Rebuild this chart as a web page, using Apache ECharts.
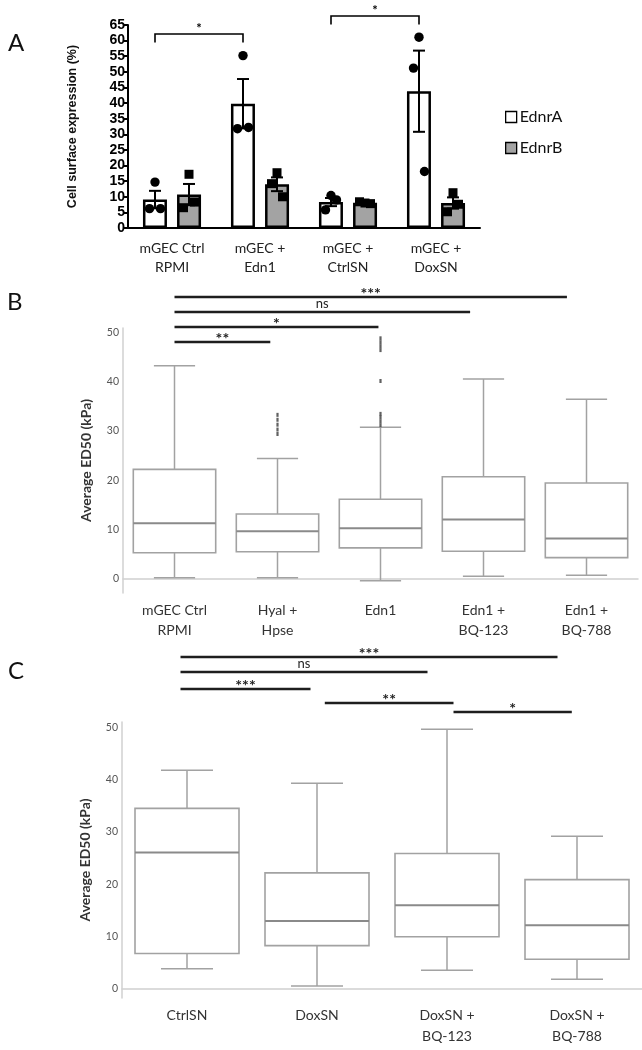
<!DOCTYPE html>
<html>
<head>
<meta charset="utf-8">
<script src="https://cdn.jsdelivr.net/npm/echarts@6/dist/echarts.min.js"></script>
<style>html,body{margin:0;padding:0;background:#fff}#c{width:642px;height:1050px}</style>
</head>
<body>
<div id="c"></div>
<script>
// ---------- Panel A data ----------
const catA = ['mGEC Ctrl\nRPMI', 'mGEC +\nEdn1', 'mGEC +\nCtrlSN', 'mGEC +\nDoxSN'];
const ednrAMean = [9.1, 39.8, 8.3, 43.8];
const ednrASem = [2.8, 7.9, 1.3, 13.0];
const ednrBMean = [10.7, 14.0, 8.1, 8.0];
const ednrBSem = [3.4, 2.2, 0.4, 1.8];
const ednrAPoints = [[14.7, 6.2, 6.2], [55.2, 31.8, 32.2], [10.4, 5.8, 9.0], [61.1, 51.2, 18.1]];
const ednrBPoints = [[17.2, 6.5, 8.3], [17.7, 14.2, 10.0], [8.0, 8.4, 7.8], [11.3, 5.2, 7.6]];
const sigA = [
  { from: 0, to: 1, y: 62.1, label: '*' },
  { from: 2, to: 3, y: 67.9, label: '*' }
];

// ---------- Panel B data ----------
const catB = ['mGEC Ctrl\nRPMI', 'Hyal +\nHpse', 'Edn1', 'Edn1 +\nBQ-123', 'Edn1 +\nBQ-788'];
const boxMinB = [0.1, 0.1, -0.5, 0.4, 0.6];
const boxQ1B = [5.2, 5.4, 6.2, 5.5, 4.2];
const boxMedB = [11.2, 9.6, 10.2, 12.0, 8.1];
const boxQ3B = [22.2, 13.1, 16.1, 20.7, 19.4];
const boxMaxB = [43.3, 24.4, 30.8, 40.6, 36.5];
const outlierCatB = [1, 1, 1, 1, 1, 2, 2, 2, 2, 2, 2, 2, 2, 2];
const outlierValB = [29.4, 30.3, 31.3, 32.3, 33.3, 31.2, 32.0, 32.8, 33.5, 40.2, 46.5, 47.3, 48.1, 48.9];
const sigB = [
  { from: 0, to: 0.93, level: 1, label: '**' },
  { from: 0, to: 1.98, level: 2, label: '*' },
  { from: 0, to: 2.87, level: 3, label: 'ns' },
  { from: 0, to: 3.81, level: 4, label: '***' }
];

// ---------- Panel C data ----------
const catC = ['CtrlSN', 'DoxSN', 'DoxSN +\nBQ-123', 'DoxSN +\nBQ-788'];
const boxMinC = [3.9, 0.6, 3.6, 1.9];
const boxQ1C = [6.8, 8.3, 10.0, 5.7];
const boxMedC = [26.1, 13.0, 16.0, 12.2];
const boxQ3C = [34.5, 22.2, 25.9, 20.9];
const boxMaxC = [41.8, 39.3, 49.6, 29.2];
const sigC = [
  { from: -0.05, to: 2.85, level: 4.07, label: '***' },
  { from: -0.05, to: 1.85, level: 3.07, label: 'ns' },
  { from: -0.05, to: 0.95, level: 1.93, label: '***' },
  { from: 1.06, to: 2.05, level: 1.0, label: '**' },
  { from: 2.05, to: 2.96, level: 0.4, label: '*' }
];

// ---------- styling ----------
const FONT = 'Lato, "Open Sans", sans-serif';
const BAR_OFFSET = 17;
const JITTER = [0, -5.5, 5.5];
const BOX_RATIO = 0.8;
const BOX_COLOR = '#a2a2a2';
const MED_COLOR = '#8a8a8a';

function errRender(offset) {
  return function (params, api) {
    const i = api.value(0), m = api.value(1), s = api.value(2);
    const hi = api.coord([i, m + s]);
    const lo = api.coord([i, m - s]);
    const x = hi[0] + offset;
    const st = { stroke: '#000', lineWidth: 2 };
    return { type: 'group', children: [
      { type: 'line', shape: { x1: x, y1: lo[1], x2: x, y2: hi[1] }, style: st },
      { type: 'line', shape: { x1: x - 6, y1: hi[1], x2: x + 6, y2: hi[1] }, style: st },
      { type: 'line', shape: { x1: x - 6, y1: lo[1], x2: x + 6, y2: lo[1] }, style: st }
    ]};
  };
}
function pointRender(offset, square) {
  return function (params, api) {
    const p = api.coord([api.value(0), api.value(1)]);
    const x = p[0] + offset + JITTER[api.value(2)];
    if (square) {
      return { type: 'rect', shape: { x: x - 4.5, y: p[1] - 4.5, width: 9, height: 9 }, style: { fill: '#000' } };
    }
    return { type: 'circle', shape: { cx: x, cy: p[1], r: 4.7 }, style: { fill: '#000' } };
  };
}
function bracketRender(params, api) {
  const a = api.coord([api.value(0), api.value(2)]);
  const b = api.coord([api.value(1), api.value(2)]);
  const drop = api.coord([api.value(0), api.value(2) - 2.7]);
  const x1 = a[0] - BAR_OFFSET, x2 = b[0] - BAR_OFFSET;
  const st = { stroke: '#000', lineWidth: 1.6, fill: 'none' };
  return { type: 'group', children: [
    { type: 'polyline', shape: { points: [[x1, drop[1]], [x1, a[1]], [x2, a[1]], [x2, drop[1]]] }, style: st },
    { type: 'text', style: { text: sigA[params.dataIndex].label, x: (x1 + x2) / 2, y: a[1] - 5,
      align: 'center', verticalAlign: 'middle', font: 'bold 13px ' + FONT, fill: '#000' } }
  ]};
}
function boxRender(params, api) {
  const i = api.value(0);
  const pMin = api.coord([i, api.value(1)]);
  const pQ1 = api.coord([i, api.value(2)]);
  const pMed = api.coord([i, api.value(3)]);
  const pQ3 = api.coord([i, api.value(4)]);
  const pMax = api.coord([i, api.value(5)]);
  const band = api.size([1, 0])[0];
  const bw = band * BOX_RATIO, cw = bw * 0.5, x = pMed[0];
  const st = { stroke: BOX_COLOR, lineWidth: 1.5, fill: 'none' };
  return { type: 'group', children: [
    { type: 'line', shape: { x1: x, y1: pMax[1], x2: x, y2: pQ3[1] }, style: st },
    { type: 'line', shape: { x1: x, y1: pQ1[1], x2: x, y2: pMin[1] }, style: st },
    { type: 'line', shape: { x1: x - cw / 2, y1: pMax[1], x2: x + cw / 2, y2: pMax[1] }, style: st },
    { type: 'line', shape: { x1: x - cw / 2, y1: pMin[1], x2: x + cw / 2, y2: pMin[1] }, style: st },
    { type: 'rect', shape: { x: x - bw / 2, y: pQ3[1], width: bw, height: pQ1[1] - pQ3[1] },
      style: { stroke: BOX_COLOR, lineWidth: 1.6, fill: '#fff' } },
    { type: 'line', shape: { x1: x - bw / 2, y1: pMed[1], x2: x + bw / 2, y2: pMed[1] },
      style: { stroke: MED_COLOR, lineWidth: 2 } }
  ]};
}
function sigRender(list) {
  return function (params, api) {
    const a = api.coord([api.value(0), api.value(2)]);
    const b = api.coord([api.value(1), api.value(2)]);
    const lab = list[params.dataIndex].label;
    const isNs = lab === 'ns';
    return { type: 'group', children: [
      { type: 'line', shape: { x1: a[0], y1: a[1], x2: b[0], y2: b[1] }, style: { stroke: '#1e1e1e', lineWidth: 2.6 } },
      { type: 'text', style: { text: lab, x: (a[0] + b[0]) / 2, y: a[1] - (isNs ? 8 : 3),
        align: 'center', verticalAlign: 'middle',
        font: (isNs ? '13px ' : 'bold 16px ') + FONT, fill: '#222' } }
    ]};
  };
}

const boxDataB = catB.map((c, i) => [i, boxMinB[i], boxQ1B[i], boxMedB[i], boxQ3B[i], boxMaxB[i]]);
const boxDataC = catC.map((c, i) => [i, boxMinC[i], boxQ1C[i], boxMedC[i], boxQ3C[i], boxMaxC[i]]);
const ptsA = [], ptsB = [];
ednrAPoints.forEach((g, i) => g.forEach((v, j) => ptsA.push([i, v, j])));
ednrBPoints.forEach((g, i) => g.forEach((v, j) => ptsB.push([i, v, j])));

const tickLabel10 = v => (Math.round(v) % 10 === 0 ? String(Math.round(v)) : '');

const option = {
  animation: false,
  backgroundColor: '#fff',
  textStyle: { fontFamily: FONT },
  graphic: [
    { type: 'text', left: 8, top: 31, style: { text: 'A', font: '24px ' + FONT, fill: '#111' } },
    { type: 'text', left: 7, top: 290, style: { text: 'B', font: '24px ' + FONT, fill: '#111' } },
    { type: 'text', left: 8, top: 659, style: { text: 'C', font: '24px ' + FONT, fill: '#111' } }
  ],
  legend: {
    orient: 'vertical', left: 500, top: 104, itemWidth: 11, itemHeight: 11, itemGap: 15,
    icon: 'rect', data: ['EdnrA', 'EdnrB'],
    itemStyle: { borderWidth: 1.3, borderColor: '#000' },
    textStyle: { fontFamily: FONT, fontSize: 16, color: '#111', padding: [0, 0, 0, -2] }
  },
  grid: [
    { left: 128, top: 25, width: 352, height: 203 },
    { left: 123, top: 328, width: 515, height: 265 },
    { left: 123, top: 282, width: 515, height: 75 },
    { left: 122, top: 722, width: 520, height: 276 },
    { left: 122, top: 643, width: 520, height: 75 }
  ],
  xAxis: [
    { type: 'category', gridIndex: 0, data: catA,
      axisLine: { lineStyle: { color: '#000', width: 2 } },
      axisTick: { alignWithLabel: true, length: 5, lineStyle: { color: '#000', width: 2 } },
      axisLabel: { fontFamily: FONT, fontSize: 14, color: '#222', lineHeight: 19, margin: 11 } },
    { type: 'category', gridIndex: 1, data: catB,
      axisLine: { lineStyle: { color: '#d0d0d0', width: 1.5 } },
      axisTick: { alignWithLabel: true, length: 3, lineStyle: { color: '#d0d0d0' } },
      axisLabel: { fontFamily: FONT, fontSize: 14, color: '#333', lineHeight: 20, margin: 7 } },
    { type: 'value', gridIndex: 2, min: -0.5, max: 4.5, show: false },
    { type: 'category', gridIndex: 3, data: catC,
      axisLine: { lineStyle: { color: '#d0d0d0', width: 1.5 } },
      axisTick: { alignWithLabel: true, length: 3, lineStyle: { color: '#d0d0d0' } },
      axisLabel: { fontFamily: FONT, fontSize: 14, color: '#333', lineHeight: 21, margin: 7 } },
    { type: 'value', gridIndex: 4, min: -0.5, max: 3.5, show: false }
  ],
  yAxis: [
    { type: 'value', gridIndex: 0, min: 0, max: 65, interval: 5,
      name: 'Cell surface expression (%)', nameLocation: 'middle', nameGap: 49,
      nameTextStyle: { fontFamily: 'Liberation Sans, Arial, sans-serif', fontWeight: 'bold', fontSize: 12.5, color: '#111' },
      axisLine: { show: true, lineStyle: { color: '#000', width: 2 } },
      axisTick: { show: true, length: 5, lineStyle: { color: '#000', width: 2 } },
      splitLine: { show: false },
      axisLabel: { fontFamily: 'Liberation Sans, Arial, sans-serif', fontWeight: 'bold', fontSize: 14, color: '#000', margin: 3 } },
    { type: 'value', gridIndex: 1, min: -3, max: 51, interval: 1,
      name: 'Average ED50 (kPa)', nameLocation: 'middle', nameGap: 30,
      nameTextStyle: { fontFamily: FONT, fontWeight: 'bold', fontSize: 14, color: '#333' },
      axisLine: { show: true, lineStyle: { color: '#d0d0d0', width: 1.5 } },
      axisTick: { show: false }, splitLine: { show: false },
      axisLabel: { fontFamily: FONT, fontSize: 10.5, color: '#555', margin: 4, formatter: tickLabel10 } },
    { type: 'value', gridIndex: 2, min: 0, max: 5, show: false },
    { type: 'value', gridIndex: 3, min: -1.7, max: 51, interval: 0.1,
      name: 'Average ED50 (kPa)', nameLocation: 'middle', nameGap: 30,
      nameTextStyle: { fontFamily: FONT, fontWeight: 'bold', fontSize: 14, color: '#333' },
      axisLine: { show: true, lineStyle: { color: '#d0d0d0', width: 1.5 } },
      axisTick: { show: false }, splitLine: { show: false },
      axisLabel: { fontFamily: FONT, fontSize: 10.5, color: '#555', margin: 4,
        formatter: v => (Math.abs(v - Math.round(v / 10) * 10) < 0.001 ? String(Math.round(v)) : '') } },
    { type: 'value', gridIndex: 4, min: 0, max: 5, show: false }
  ],
  series: [
    { name: 'EdnrA', type: 'bar', xAxisIndex: 0, yAxisIndex: 0, data: ednrAMean, barWidth: 24, barGap: '42%',
      itemStyle: { color: '#fff', borderColor: '#000', borderWidth: 2.5 }, z: 2 },
    { name: 'EdnrB', type: 'bar', xAxisIndex: 0, yAxisIndex: 0, data: ednrBMean, barWidth: 24, barGap: '42%',
      itemStyle: { color: '#a3a3a3', borderColor: '#000', borderWidth: 2.5 }, z: 2 },
    { type: 'custom', xAxisIndex: 0, yAxisIndex: 0, clip: false, z: 3,
      data: ednrAMean.map((m, i) => [i, m, ednrASem[i]]), renderItem: errRender(-BAR_OFFSET), encode: { x: 0, y: 1 } },
    { type: 'custom', xAxisIndex: 0, yAxisIndex: 0, clip: false, z: 3,
      data: ednrBMean.map((m, i) => [i, m, ednrBSem[i]]), renderItem: errRender(BAR_OFFSET), encode: { x: 0, y: 1 } },
    { type: 'custom', xAxisIndex: 0, yAxisIndex: 0, clip: false, z: 4,
      data: ptsA, renderItem: pointRender(-BAR_OFFSET, false), encode: { x: 0, y: 1 } },
    { type: 'custom', xAxisIndex: 0, yAxisIndex: 0, clip: false, z: 4,
      data: ptsB, renderItem: pointRender(BAR_OFFSET, true), encode: { x: 0, y: 1 } },
    { type: 'custom', xAxisIndex: 0, yAxisIndex: 0, clip: false, z: 4,
      data: sigA.map(s => [s.from, s.to, s.y]), renderItem: bracketRender, encode: { x: [0, 1], y: 2 } },

    { type: 'custom', xAxisIndex: 1, yAxisIndex: 1, clip: false,
      data: boxDataB, renderItem: boxRender, encode: { x: 0, y: [1, 2, 3, 4, 5] } },
    { type: 'scatter', xAxisIndex: 1, yAxisIndex: 1, symbol: 'rect', symbolSize: [2.2, 4],
      itemStyle: { color: '#3a3a3a' }, data: outlierCatB.map((c, i) => [c, outlierValB[i]]), z: 5 },
    { type: 'custom', xAxisIndex: 2, yAxisIndex: 2, clip: false,
      data: sigB.map(s => [s.from, s.to, s.level]), renderItem: sigRender(sigB), encode: { x: [0, 1], y: 2 } },

    { type: 'custom', xAxisIndex: 3, yAxisIndex: 3, clip: false,
      data: boxDataC, renderItem: boxRender, encode: { x: 0, y: [1, 2, 3, 4, 5] } },
    { type: 'custom', xAxisIndex: 4, yAxisIndex: 4, clip: false,
      data: sigC.map(s => [s.from, s.to, s.level]), renderItem: sigRender(sigC), encode: { x: [0, 1], y: 2 } }
  ]
};
const chart = echarts.init(document.getElementById('c'), null, { renderer: 'canvas' });
chart.setOption(option);
</script>
</body>
</html>
